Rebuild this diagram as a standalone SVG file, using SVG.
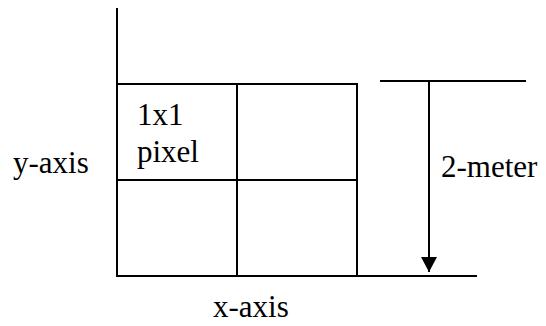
<svg xmlns="http://www.w3.org/2000/svg" width="546" height="326" viewBox="0 0 546 326">
<style>
.ln{stroke:#000;stroke-width:2;fill:none}
.t{font-family:'Liberation Serif','Times New Roman',Times,'DejaVu Serif',serif;font-size:31px;fill:#000}
</style>
<defs>
<marker id="ah" markerUnits="userSpaceOnUse" markerWidth="16" markerHeight="16" refX="15" refY="8" orient="auto" viewBox="0 0 16 16">
<path d="M0,0 L15,8 L0,16 Z" fill="#000"/>
</marker>
</defs>
<rect width="546" height="326" fill="#fff"/>
<g id="connectors">
<line class="ln" x1="117" y1="8" x2="117" y2="277"/>
<line class="ln" x1="380" y1="81" x2="526" y2="81"/>
<line class="ln" x1="356" y1="276" x2="477" y2="276"/>
<line class="ln" x1="429" y1="81" x2="429" y2="272" marker-end="url(#ah)"/>
</g>
<g id="grid">
<rect class="ln" x="117" y="84" width="240" height="192"/>
<line class="ln" x1="237" y1="84" x2="237" y2="276"/>
<line class="ln" x1="117" y1="180" x2="357" y2="180"/>
</g>
<g id="pixel-label"><text class="t" font-family="Liberation Serif, serif" x="137" y="125">1x1</text><text class="t" font-family="Liberation Serif, serif" x="137" y="162">pixel</text></g>
<g id="y-axis-label"><text class="t" font-family="Liberation Serif, serif" x="13" y="173">y-axis</text></g>
<g id="x-axis-label"><text class="t" font-family="Liberation Serif, serif" x="213" y="317">x-axis</text></g>
<g id="meter-label"><text class="t" font-family="Liberation Serif, serif" x="441" y="177">2-meter</text></g>
</svg>
